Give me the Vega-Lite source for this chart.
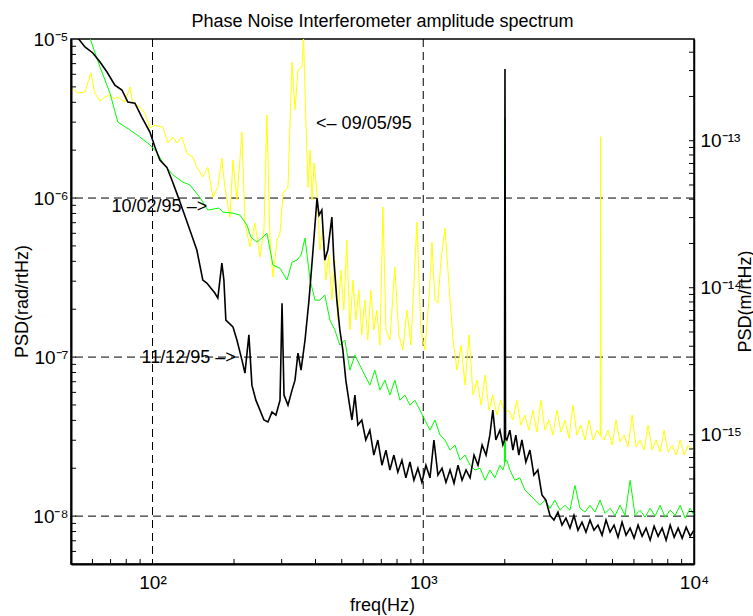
{
  "$schema": "https://vega.github.io/schema/vega-lite/v6.json",
  "width": 623,
  "height": 525,
  "autosize": {"type": "none"},
  "padding": {"left": 71, "top": 39, "right": 59, "bottom": 52},
  "background": "white",
  "config": {"view": {"stroke": "black", "strokeWidth": 1.5}, "font": "Liberation Sans"},
  "title": {"text": "Phase Noise Interferometer amplitude spectrum", "font": "Liberation Sans", "fontSize": 18, "fontWeight": "normal", "color": "black", "anchor": "middle", "offset": -1},
  "datasets": {
    "y0905": [
      {"f":50,"psd":4.99e-6},{"f":53,"psd":4.58e-6},{"f":56.3,"psd":4.64e-6},{"f":59.2,"psd":6.11e-6},{"f":61.2,"psd":4.58e-6},
      {"f":64,"psd":4.07e-6},{"f":66.8,"psd":4.32e-6},{"f":69.6,"psd":4.45e-6},{"f":72,"psd":4.2e-6},{"f":74.5,"psd":4.32e-6},
      {"f":79.1,"psd":4.01e-6},{"f":82.5,"psd":4.99e-6},{"f":84.6,"psd":3.95e-6},{"f":89.8,"psd":3.73e-6},{"f":93.7,"psd":3.43e-6},
      {"f":97.8,"psd":2.75e-6},{"f":102,"psd":2.87e-6},{"f":109.2,"psd":2.79e-6},{"f":114,"psd":2.22e-6},{"f":118.9,"psd":2.42e-6},
      {"f":123,"psd":2.22e-6},{"f":128.4,"psd":2.42e-6},{"f":133.9,"psd":1.91e-6},{"f":140.9,"psd":1.81e-6},{"f":145.8,"psd":1.56e-6},
      {"f":153.4,"psd":1.36e-6},{"f":160.1,"psd":1.56e-6},{"f":167.1,"psd":1.01e-6},{"f":174.3,"psd":1.17e-6},{"f":180.4,"psd":1.78e-6},
      {"f":185.1,"psd":1.17e-6},{"f":193.2,"psd":7.59e-7},{"f":198.2,"psd":1.73e-6},{"f":205,"psd":9.71e-7},{"f":214,"psd":2.6e-6},
      {"f":219.5,"psd":6.96e-7},{"f":229,"psd":4.92e-7},{"f":238.9,"psd":6.96e-7},{"f":249.4,"psd":4.26e-7},{"f":258,"psd":6.29e-7},
      {"f":264.6,"psd":3.33e-6},{"f":271.6,"psd":5.44e-7},{"f":278.6,"psd":3.18e-7},{"f":288.2,"psd":5.44e-7},{"f":295.8,"psd":6.02e-7},
      {"f":303.4,"psd":1.07e-6},{"f":316.5,"psd":1.17e-6},{"f":327.6,"psd":7.17e-6},{"f":336,"psd":3.58e-6},{"f":344.6,"psd":6.38e-6},
      {"f":356.7,"psd":6.67e-6},{"f":361.2,"psd":1.05e-5},{"f":365.9,"psd":4.58e-6},{"f":375.3,"psd":1.17e-6},{"f":381.9,"psd":2e-6},
      {"f":388.4,"psd":9.71e-7},{"f":395,"psd":1.66e-6},{"f":405.2,"psd":1.07e-6},{"f":415,"psd":4.71e-7},{"f":425.7,"psd":6.29e-7},
      {"f":436.6,"psd":3.05e-7},{"f":447.8,"psd":4.38e-7},{"f":459.7,"psd":2.28e-7},{"f":471.5,"psd":4.07e-7},{"f":483.6,"psd":1.71e-7},
      {"f":496.2,"psd":3.52e-7},{"f":508.9,"psd":1.97e-7},{"f":522,"psd":5.44e-7},{"f":536,"psd":1.48e-7},{"f":549.8,"psd":3.05e-7},
      {"f":563.9,"psd":1.71e-7},{"f":578.3,"psd":2.64e-7},{"f":593,"psd":1.38e-7},{"f":608.2,"psd":2.28e-7},{"f":623.8,"psd":1.28e-7},
      {"f":640.4,"psd":2.64e-7},{"f":656.8,"psd":1.48e-7},{"f":673.7,"psd":1.97e-7},{"f":692,"psd":1.19e-7},{"f":709.8,"psd":8.77e-7},
      {"f":728,"psd":1.48e-7},{"f":753,"psd":1.28e-7},{"f":785.5,"psd":3.68e-7},{"f":812.5,"psd":1.38e-7},{"f":841.1,"psd":1.11e-7},
      {"f":870,"psd":1.97e-7},{"f":900.6,"psd":1.19e-7},{"f":947.5,"psd":7.06e-7},{"f":980.3,"psd":1.48e-7},{"f":1014,"psd":1.11e-7},
      {"f":1049,"psd":2.28e-7},{"f":1077,"psd":5.28e-7},{"f":1105,"psd":2.28e-7},{"f":1133,"psd":2.18e-7},{"f":1163,"psd":4.07e-7},
      {"f":1203,"psd":6.47e-7},{"f":1234,"psd":3.52e-7},{"f":1288,"psd":1.28e-7},{"f":1333,"psd":8.28e-8},{"f":1380,"psd":1.19e-7},
      {"f":1427,"psd":6.66e-8},{"f":1476,"psd":1.38e-7},{"f":1527,"psd":5.77e-8},{"f":1580,"psd":7.16e-8},{"f":1636,"psd":4.99e-8},
      {"f":1692,"psd":7.7e-8},{"f":1750,"psd":4.64e-8},{"f":1807,"psd":5.77e-8},{"f":1869,"psd":4.32e-8},{"f":1935,"psd":5.36e-8},
      {"f":1995,"psd":4.5e-8},{"f":2004,"psd":2.28e-7},{"f":2013,"psd":4.5e-8},
      {"f":2071,"psd":4.64e-8},{"f":2143,"psd":4.02e-8},{"f":2216,"psd":5.36e-8},{"f":2294,"psd":3.74e-8},{"f":2373,"psd":4.32e-8},
      {"f":2455,"psd":3.47e-8},{"f":2541,"psd":4.64e-8},{"f":2628,"psd":3.37e-8},{"f":2721,"psd":5.36e-8},{"f":2815,"psd":3.47e-8},
      {"f":2911,"psd":4.02e-8},{"f":3014,"psd":3.23e-8},{"f":3117,"psd":4.64e-8},{"f":3226,"psd":3.37e-8},{"f":3337,"psd":4.02e-8},
      {"f":3452,"psd":3.09e-8},{"f":3572,"psd":4.99e-8},{"f":3695,"psd":3.23e-8},{"f":3825,"psd":3.74e-8},{"f":3957,"psd":3.01e-8},
      {"f":4093,"psd":4.02e-8},{"f":4236,"psd":3.01e-8},{"f":4382,"psd":3.47e-8},{"f":4505,"psd":3.2e-8},{"f":4520,"psd":2.43e-6},
      {"f":4535,"psd":3.2e-8},{"f":4653,"psd":3.01e-8},
      {"f":4813,"psd":3.47e-8},{"f":4982,"psd":2.8e-8},{"f":5153,"psd":4.02e-8},{"f":5333,"psd":2.92e-8},{"f":5517,"psd":3.23e-8},
      {"f":5706,"psd":2.72e-8},{"f":5907,"psd":4.32e-8},{"f":6110,"psd":2.72e-8},{"f":6324,"psd":3.01e-8},{"f":6542,"psd":2.6e-8},
      {"f":6767,"psd":3.74e-8},{"f":7005,"psd":2.6e-8},{"f":7245,"psd":3.01e-8},{"f":7499,"psd":2.53e-8},{"f":7757,"psd":3.47e-8},
      {"f":8024,"psd":2.53e-8},{"f":8306,"psd":2.8e-8},{"f":8591,"psd":2.42e-8},{"f":8892,"psd":3.01e-8},{"f":9198,"psd":2.42e-8},
      {"f":9514,"psd":2.8e-8},{"f":10000,"psd":2.6e-8}
    ],
    "g1002": [
      {"f":57.3,"psd":1.139e-5},{"f":58.7,"psd":1.015e-5},{"f":64,"psd":6.67e-6},{"f":69.6,"psd":4.58e-6},{"f":74.5,"psd":3e-6},
      {"f":82.5,"psd":2.68e-6},{"f":89.8,"psd":2.42e-6},{"f":97.8,"psd":2.16e-6},{"f":103.8,"psd":1.94e-6},{"f":109.2,"psd":1.66e-6},
      {"f":118.9,"psd":1.4e-6},{"f":129.4,"psd":1.26e-6},{"f":137.4,"psd":1.21e-6},{"f":149.6,"psd":1.01e-6},{"f":160.1,"psd":8.4e-7},
      {"f":175.8,"psd":8.65e-7},{"f":182,"psd":8.16e-7},{"f":198.2,"psd":8.04e-7},{"f":210.4,"psd":7.81e-7},{"f":223.2,"psd":6.76e-7},
      {"f":230.9,"psd":5.68e-7},{"f":243,"psd":5.28e-7},{"f":255.8,"psd":5.68e-7},{"f":264.6,"psd":6.02e-7},{"f":278.6,"psd":3.79e-7},
      {"f":295.8,"psd":3.62e-7},{"f":313.8,"psd":3.05e-7},{"f":327.6,"psd":3.95e-7},{"f":341.7,"psd":4.07e-7},{"f":353.7,"psd":4.38e-7},
      {"f":365.9,"psd":5.6e-7},{"f":381.9,"psd":3.05e-7},{"f":398.4,"psd":2.28e-7},{"f":415,"psd":2.28e-7},{"f":432.9,"psd":2.46e-7},
      {"f":452,"psd":1.71e-7},{"f":471.5,"psd":1.48e-7},{"f":492,"psd":1.19e-7},{"f":513.3,"psd":1.28e-7},{"f":536,"psd":8.28e-8},
      {"f":559.2,"psd":1.03e-7},{"f":583,"psd":8.9e-8},{"f":608.2,"psd":7.7e-8},{"f":635,"psd":6.66e-8},{"f":662.4,"psd":8.28e-8},
      {"f":692,"psd":6.2e-8},{"f":721.9,"psd":7.16e-8},{"f":753,"psd":5.77e-8},{"f":785.5,"psd":7.16e-8},{"f":820,"psd":5.36e-8},
      {"f":855.4,"psd":5.77e-8},{"f":893,"psd":4.99e-8},{"f":931.6,"psd":5.36e-8},{"f":972,"psd":4.64e-8},{"f":1014,"psd":4.02e-8},
      {"f":1059,"psd":3.47e-8},{"f":1105,"psd":4.02e-8},{"f":1153,"psd":3.23e-8},{"f":1203,"psd":3.01e-8},{"f":1256,"psd":2.6e-8},
      {"f":1310,"psd":2.8e-8},{"f":1368,"psd":2.25e-8},{"f":1427,"psd":2.42e-8},{"f":1489,"psd":2.09e-8},{"f":1553,"psd":1.95e-8},
      {"f":1622,"psd":2e-8},{"f":1692,"psd":1.68e-8},{"f":1762,"psd":1.95e-8},{"f":1838,"psd":1.74e-8},{"f":1919,"psd":2.09e-8},
      {"f":1968,"psd":1.95e-8},{"f":1995,"psd":2.1e-8},{"f":2004,"psd":3.19e-6},{"f":2013,"psd":2.2e-8},{"f":2036,"psd":2.25e-8},
      {"f":2089,"psd":1.95e-8},{"f":2179,"psd":1.68e-8},{"f":2275,"psd":1.74e-8},{"f":2373,"psd":1.46e-8},{"f":2477,"psd":1.36e-8},
      {"f":2584,"psd":1.26e-8},{"f":2698,"psd":1.17e-8},{"f":2815,"psd":1.26e-8},{"f":2938,"psd":1.12e-8},{"f":3065,"psd":1.26e-8},
      {"f":3199,"psd":1.09e-8},{"f":3337,"psd":1.17e-8},{"f":3483,"psd":1.09e-8},{"f":3633,"psd":1.56e-8},{"f":3793,"psd":1.12e-8},
      {"f":3957,"psd":1.06e-8},{"f":4130,"psd":1.17e-8},{"f":4308,"psd":1.06e-8},{"f":4498,"psd":1.26e-8},{"f":4692,"psd":1.04e-8},
      {"f":4898,"psd":1.12e-8},{"f":5110,"psd":1.01e-8},{"f":5333,"psd":1.17e-8},{"f":5563,"psd":1.01e-8},{"f":5808,"psd":1.68e-8},
      {"f":6059,"psd":1.01e-8},{"f":6324,"psd":1.09e-8},{"f":6597,"psd":9.85e-9},{"f":6887,"psd":1.12e-8},{"f":7184,"psd":1e-8},
      {"f":7499,"psd":1.17e-8},{"f":7823,"psd":9.85e-9},{"f":8166,"psd":1.09e-8},{"f":8519,"psd":1.01e-8},{"f":8892,"psd":1.17e-8},
      {"f":9276,"psd":9.71e-9},{"f":9680,"psd":1.12e-8},{"f":10000,"psd":1.01e-8}
    ],
    "k1112": [
      {"f":50,"psd":1.22e-5},{"f":53,"psd":1.015e-5},{"f":56.3,"psd":8.91e-6},{"f":60.2,"psd":8.17e-6},{"f":64,"psd":7.17e-6},
      {"f":67.9,"psd":6.2e-6},{"f":72.6,"psd":5.13e-6},{"f":77.1,"psd":4.78e-6},{"f":81.1,"psd":4.01e-6},{"f":86.1,"psd":3.95e-6},
      {"f":91.3,"psd":3.23e-6},{"f":97.8,"psd":2.6e-6},{"f":102,"psd":2.1e-6},{"f":106.5,"psd":1.73e-6},{"f":113,"psd":1.56e-6},
      {"f":117.9,"psd":1.3e-6},{"f":123,"psd":1.07e-6},{"f":129.4,"psd":8.4e-7},{"f":137.4,"psd":6.29e-7},{"f":145.8,"psd":4.71e-7},
      {"f":153.4,"psd":3.05e-7},{"f":158.7,"psd":2.92e-7},{"f":169.9,"psd":2.53e-7},{"f":174.3,"psd":2.35e-7},{"f":180.4,"psd":3.9e-7},
      {"f":183.5,"psd":3.05e-7},{"f":186.6,"psd":1.71e-7},{"f":198.2,"psd":1.55e-7},{"f":205,"psd":1.28e-7},{"f":214,"psd":9.57e-8},
      {"f":219.5,"psd":7.93e-8},{"f":227,"psd":1.38e-7},{"f":232.9,"psd":6.66e-8},{"f":240.9,"psd":5.36e-8},{"f":249.4,"psd":4.64e-8},
      {"f":258,"psd":4.02e-8},{"f":266.9,"psd":3.91e-8},{"f":276.2,"psd":4.51e-8},{"f":285.7,"psd":4.32e-8},{"f":295.8,"psd":5.36e-8},
      {"f":300.9,"psd":2.18e-7},{"f":306,"psd":5.77e-8},{"f":316.5,"psd":4.99e-8},{"f":327.6,"psd":6.2e-8},{"f":336,"psd":7.16e-8},
      {"f":344.6,"psd":1.06e-7},{"f":353.7,"psd":8.28e-8},{"f":365.9,"psd":1.28e-7},{"f":378.4,"psd":2.28e-7},{"f":391.7,"psd":4.71e-7},
      {"f":405.2,"psd":1e-6},{"f":412.1,"psd":7.81e-7},{"f":422.1,"psd":8.4e-7},{"f":432.9,"psd":4.07e-7},{"f":444.1,"psd":4.71e-7},
      {"f":459.7,"psd":7.59e-7},{"f":467.5,"psd":4.07e-7},{"f":479.6,"psd":2.28e-7},{"f":492,"psd":1.48e-7},{"f":504.6,"psd":1.11e-7},
      {"f":517.6,"psd":7.16e-8},{"f":530.9,"psd":5.36e-8},{"f":545.2,"psd":4.02e-8},{"f":559.2,"psd":5.77e-8},{"f":573.5,"psd":3.74e-8},
      {"f":593,"psd":4.02e-8},{"f":613.3,"psd":3.01e-8},{"f":635,"psd":3.47e-8},{"f":656.8,"psd":2.42e-8},{"f":679.5,"psd":3.01e-8},
      {"f":703.8,"psd":2.09e-8},{"f":728,"psd":2.6e-8},{"f":753,"psd":1.95e-8},{"f":778.9,"psd":2.42e-8},{"f":805.7,"psd":1.89e-8},
      {"f":834,"psd":2.25e-8},{"f":862.6,"psd":1.74e-8},{"f":893,"psd":2.19e-8},{"f":923.7,"psd":1.68e-8},{"f":955.5,"psd":2e-8},
      {"f":988.6,"psd":1.63e-8},{"f":1023,"psd":2.09e-8},{"f":1059,"psd":1.74e-8},{"f":1095,"psd":3.01e-8},{"f":1133,"psd":1.81e-8},
      {"f":1173,"psd":2e-8},{"f":1213,"psd":1.63e-8},{"f":1256,"psd":1.95e-8},{"f":1299,"psd":1.61e-8},{"f":1344,"psd":2.09e-8},
      {"f":1391,"psd":1.68e-8},{"f":1439,"psd":1.95e-8},{"f":1489,"psd":1.74e-8},{"f":1540,"psd":2.42e-8},{"f":1593,"psd":2.09e-8},
      {"f":1650,"psd":2.8e-8},{"f":1706,"psd":2.42e-8},{"f":1762,"psd":3.23e-8},{"f":1807,"psd":4.64e-8},{"f":1854,"psd":3.01e-8},
      {"f":1919,"psd":3.47e-8},{"f":1968,"psd":2.8e-8},{"f":1995,"psd":3e-8},{"f":2004,"psd":6.48e-6},{"f":2013,"psd":3.1e-8},
      {"f":2036,"psd":3.01e-8},{"f":2089,"psd":3.47e-8},{"f":2143,"psd":2.6e-8},{"f":2198,"psd":3.23e-8},{"f":2254,"psd":2.42e-8},
      {"f":2314,"psd":3.01e-8},{"f":2393,"psd":2.19e-8},{"f":2477,"psd":2.6e-8},{"f":2562,"psd":1.81e-8},{"f":2650,"psd":1.95e-8},
      {"f":2744,"psd":1.36e-8},{"f":2838,"psd":1.26e-8},{"f":2938,"psd":1.01e-8},{"f":3039,"psd":9.44e-9},{"f":3144,"psd":1.06e-8},
      {"f":3254,"psd":8.78e-9},{"f":3365,"psd":9.71e-9},{"f":3483,"psd":8.41e-9},{"f":3603,"psd":1.01e-8},{"f":3727,"psd":8.16e-9},
      {"f":3858,"psd":9.17e-9},{"f":3990,"psd":7.93e-9},{"f":4130,"psd":9.44e-9},{"f":4272,"psd":8.16e-9},{"f":4419,"psd":8.78e-9},
      {"f":4575,"psd":7.59e-9},{"f":4732,"psd":9.44e-9},{"f":4898,"psd":7.93e-9},{"f":5066,"psd":8.78e-9},{"f":5241,"psd":7.37e-9},
      {"f":5424,"psd":9.17e-9},{"f":5610,"psd":7.59e-9},{"f":5808,"psd":8.41e-9},{"f":6008,"psd":7.27e-9},{"f":6215,"psd":8.78e-9},
      {"f":6432,"psd":7.48e-9},{"f":6653,"psd":8.41e-9},{"f":6887,"psd":7.06e-9},{"f":7124,"psd":8.65e-9},{"f":7369,"psd":7.48e-9},
      {"f":7627,"psd":8.41e-9},{"f":7889,"psd":7.06e-9},{"f":8166,"psd":8.78e-9},{"f":8447,"psd":7.37e-9},{"f":8738,"psd":8.41e-9},
      {"f":9044,"psd":7.27e-9},{"f":9354,"psd":8.53e-9},{"f":9680,"psd":7.48e-9},{"f":10000,"psd":8.16e-9}
    ],
    "notes": [
      {"f":402,"psd":2.92e-6,"label":"<– 09/05/95"},
      {"f":70.6,"psd":8.82e-7,"label":"10/02/95 –>"},
      {"f":91.1,"psd":9.82e-8,"label":"11/12/95 –>"}
    ],
    "xticks": [
      {"f":60},{"f":70},{"f":80},{"f":90},{"f":200},{"f":300},{"f":400},{"f":500},{"f":600},{"f":700},{"f":800},{"f":900},
      {"f":2000},{"f":3000},{"f":4000},{"f":5000},{"f":6000},{"f":7000},{"f":8000},{"f":9000}
    ],
    "yticks": [
      {"psd":6e-9},{"psd":7e-9},{"psd":8e-9},{"psd":9e-9},{"psd":1e-8},{"psd":2e-8},{"psd":3e-8},{"psd":4e-8},{"psd":5e-8},
      {"psd":6e-8},{"psd":7e-8},{"psd":8e-8},{"psd":9e-8},{"psd":1e-7},{"psd":2e-7},{"psd":3e-7},{"psd":4e-7},{"psd":5e-7},
      {"psd":6e-7},{"psd":7e-7},{"psd":8e-7},{"psd":9e-7},{"psd":1e-6},{"psd":2e-6},{"psd":3e-6},{"psd":4e-6},{"psd":5e-6},
      {"psd":6e-6},{"psd":7e-6},{"psd":8e-6},{"psd":9e-6}
    ],
    "mticks": [
      {"m":2e-16},{"m":3e-16},{"m":4e-16},{"m":5e-16},{"m":6e-16},{"m":7e-16},{"m":8e-16},{"m":9e-16},{"m":1e-15},
      {"m":2e-15},{"m":3e-15},{"m":4e-15},{"m":5e-15},{"m":6e-15},{"m":7e-15},{"m":8e-15},{"m":9e-15},{"m":1e-14},
      {"m":2e-14},{"m":3e-14},{"m":4e-14},{"m":5e-14},{"m":6e-14},{"m":7e-14},{"m":8e-14},{"m":9e-14},{"m":1e-13},
      {"m":2e-13},{"m":3e-13},{"m":4e-13}
    ]
  },
  "layer": [
    {
      "layer": [
        {
          "data": {"values": [{"f": 100}, {"f": 1000}]},
          "mark": {"type": "rule", "color": "black", "strokeWidth": 1, "strokeDash": [8, 5]},
          "encoding": {
            "x": {"field": "f", "type": "quantitative", "scale": {"type": "log", "domain": [50, 10000], "nice": false}}
          }
        },
        {
          "data": {"values": [{"psd": 1e-6}, {"psd": 1e-7}, {"psd": 1e-8}]},
          "mark": {"type": "rule", "color": "black", "strokeWidth": 1, "strokeDash": [8, 5]},
          "encoding": {
            "y": {"field": "psd", "type": "quantitative", "scale": {"type": "log", "domain": [5e-9, 1e-5], "nice": false}}
          }
        },
        {
          "data": {"name": "y0905"},
          "mark": {"type": "line", "color": "#ffff00", "strokeWidth": 1, "clip": true},
          "encoding": {
            "x": {
              "field": "f", "type": "quantitative",
              "scale": {"type": "log", "domain": [50, 10000], "nice": false},
              "axis": {
                "title": "freq(Hz)",
                "values": [100, 1000, 10000],
                "labelExpr": "datum.value == 100 ? '10²' : datum.value == 1000 ? '10³' : datum.value == 10000 ? '10⁴' : ''",
                "grid": false, "ticks": false, "zindex": 2,
                "domainColor": "black", "domainWidth": 2,
                "labelFont": "Liberation Sans", "labelFontSize": 19, "labelColor": "black",
                "labelPadding": 9, "labelOverlap": false, "labelFlush": false, "labelBaseline": "top",
                "titleFont": "Liberation Sans", "titleFontSize": 18, "titleFontWeight": "normal", "titleColor": "black",
                "titleX": 311, "titleY": 41, "titleBaseline": "middle", "titleAlign": "center"
              }
            },
            "y": {
              "field": "psd", "type": "quantitative",
              "scale": {"type": "log", "domain": [5e-9, 1e-5], "nice": false},
              "axis": {
                "title": "PSD(rad/rtHz)",
                "values": [1e-8, 1e-7, 1e-6, 1e-5],
                "labelExpr": "datum.value == 1e-5 ? '10⁻⁵' : datum.value == 1e-6 ? '10⁻⁶' : datum.value == 1e-7 ? '10⁻⁷' : datum.value == 1e-8 ? '10⁻⁸' : ''",
                "grid": false, "ticks": false, "zindex": 2,
                "domainColor": "black", "domainWidth": 2,
                "labelFont": "Liberation Sans", "labelFontSize": 19, "labelColor": "black",
                "labelPadding": 3, "labelOverlap": false, "labelFlush": false,
                "titleFont": "Liberation Sans", "titleFontSize": 18, "titleFontWeight": "normal", "titleColor": "black",
                "titleX": -49, "titleY": 262, "titleAngle": -90, "titleBaseline": "middle", "titleAlign": "center"
              }
            }
          }
        },
        {
          "data": {"name": "g1002"},
          "mark": {"type": "line", "color": "#00ff00", "strokeWidth": 1, "clip": true},
          "encoding": {
            "x": {"field": "f", "type": "quantitative", "scale": {"type": "log", "domain": [50, 10000], "nice": false}},
            "y": {"field": "psd", "type": "quantitative", "scale": {"type": "log", "domain": [5e-9, 1e-5], "nice": false}}
          }
        },
        {
          "data": {"name": "k1112"},
          "mark": {"type": "line", "color": "#000000", "strokeWidth": 1.6, "clip": true},
          "encoding": {
            "x": {"field": "f", "type": "quantitative", "scale": {"type": "log", "domain": [50, 10000], "nice": false}},
            "y": {"field": "psd", "type": "quantitative", "scale": {"type": "log", "domain": [5e-9, 1e-5], "nice": false}}
          }
        },
        {
          "data": {"name": "notes"},
          "mark": {"type": "text", "align": "left", "baseline": "middle", "font": "Liberation Sans", "fontSize": 18, "color": "black"},
          "encoding": {
            "x": {"field": "f", "type": "quantitative", "scale": {"type": "log", "domain": [50, 10000], "nice": false}},
            "y": {"field": "psd", "type": "quantitative", "scale": {"type": "log", "domain": [5e-9, 1e-5], "nice": false}},
            "text": {"field": "label"}
          }
        },
        {
          "data": {"name": "yticks"},
          "mark": {"type": "rule", "color": "black", "strokeWidth": 1},
          "encoding": {
            "x": {"datum": 50, "type": "quantitative", "scale": {"type": "log", "domain": [50, 10000], "nice": false}},
            "x2": {"datum": 52.2},
            "y": {"field": "psd", "type": "quantitative", "scale": {"type": "log", "domain": [5e-9, 1e-5], "nice": false}}
          }
        },
        {
          "data": {"name": "xticks"},
          "mark": {"type": "rule", "color": "black", "strokeWidth": 1},
          "encoding": {
            "x": {"field": "f", "type": "quantitative", "scale": {"type": "log", "domain": [50, 10000], "nice": false}},
            "y": {"datum": 5e-9, "type": "quantitative", "scale": {"type": "log", "domain": [5e-9, 1e-5], "nice": false}},
            "y2": {"datum": 5.38e-9}
          }
        }
      ]
    },
    {
      "data": {"name": "mticks"},
      "mark": {"type": "rule", "color": "black", "strokeWidth": 1},
      "encoding": {
        "x": {"datum": 9583, "type": "quantitative", "scale": {"type": "log", "domain": [50, 10000], "nice": false}},
        "x2": {"datum": 10000},
        "y": {
          "field": "m", "type": "quantitative",
          "scale": {"type": "log", "domain": [1.32e-16, 4.92e-13], "nice": false},
          "axis": {
            "orient": "right",
            "title": "PSD(m/rtHz)",
            "values": [1e-15, 1e-14, 1e-13],
            "labelExpr": "datum.value == 1e-13 ? '10⁻¹³' : datum.value == 1e-14 ? '10⁻¹⁴' : datum.value == 1e-15 ? '10⁻¹⁵' : ''",
            "grid": false, "ticks": false, "zindex": 2,
            "domainColor": "black", "domainWidth": 1.5,
            "labelFont": "Liberation Sans", "labelFontSize": 19, "labelColor": "black",
            "labelPadding": 6, "labelOverlap": false, "labelFlush": false,
            "titleFont": "Liberation Sans", "titleFontSize": 18, "titleFontWeight": "normal", "titleColor": "black",
            "titleX": 51, "titleY": 262, "titleAngle": -90, "titleBaseline": "middle", "titleAlign": "center"
          }
        }
      }
    }
  ],
  "resolve": {"scale": {"y": "independent"}, "axis": {"y": "independent"}}
}
